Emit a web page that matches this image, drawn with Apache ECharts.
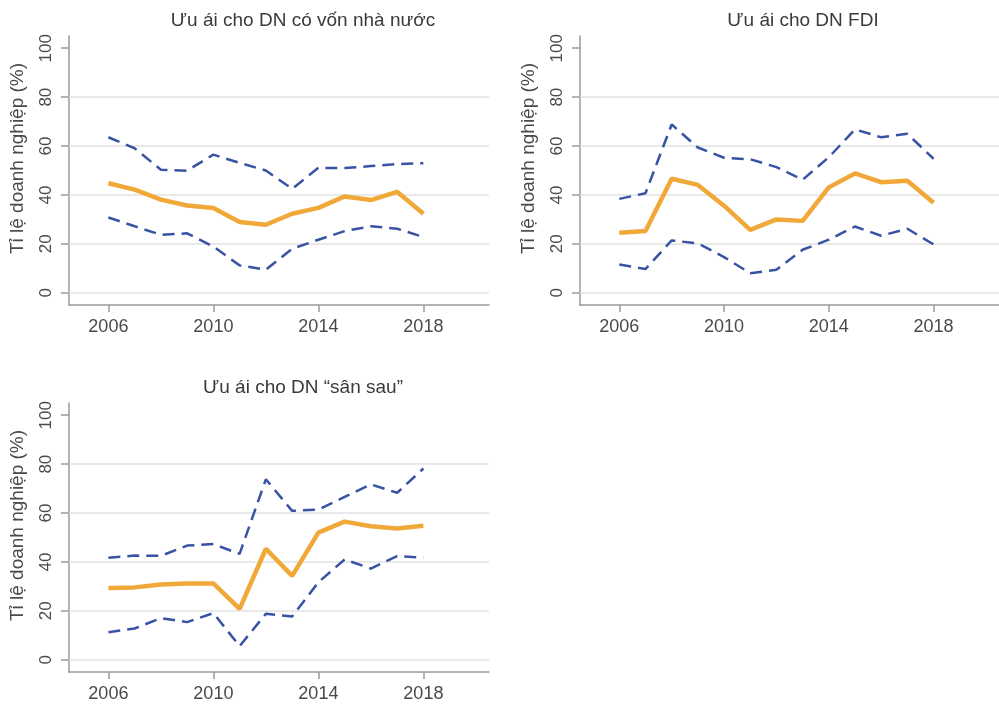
<!DOCTYPE html>
<html>
<head>
<meta charset="utf-8">
<script src="https://cdn.jsdelivr.net/npm/echarts@6/dist/echarts.min.js"></script>
<style>
html, body { margin: 0; padding: 0; background: #fff; }
#main { width: 999px; height: 704px; }
</style>
</head>
<body>
<div id="main"></div>
<script>
var years = [2006, 2007, 2008, 2009, 2010, 2011, 2012, 2013, 2014, 2015, 2016, 2017, 2018];
var xTicks = [2006, 2010, 2014, 2018];
var yTicks = [0, 20, 40, 60, 80, 100];
var gridVals = [0, 20, 40, 60, 80];
var titles = ['Ưu ái cho DN có vốn nhà nước', 'Ưu ái cho DN FDI', 'Ưu ái cho DN “sân sau”'];
var yName = 'Tỉ lệ doanh nghiệp (%)';

// DN có vốn nhà nước
var stateMid = [44.8, 42.2, 38.1, 35.7, 34.7, 28.9, 27.8, 32.3, 34.7, 39.4, 37.9, 41.3, 32.3];
var stateHi = [63.6, 59.1, 50.3, 49.9, 56.5, 53.1, 50.0, 42.5, 51.1, 51.0, 51.8, 52.6, 53.0];
var stateLo = [30.8, 27.2, 23.7, 24.3, 18.9, 11.2, 9.4, 18.0, 21.7, 25.2, 27.2, 26.2, 22.8];

// DN FDI
var fdiMid = [24.5, 25.3, 46.6, 44.1, 35.6, 25.7, 30.0, 29.4, 43.1, 48.8, 45.2, 45.8, 36.8];
var fdiHi = [38.4, 40.7, 68.8, 59.4, 55.2, 54.6, 51.4, 46.2, 55.4, 66.8, 63.6, 65.0, 54.8];
var fdiLo = [11.6, 9.7, 21.4, 20.2, 14.6, 8.0, 9.4, 17.6, 21.7, 27.1, 23.3, 26.2, 19.8];

// DN "sân sau"
var backMid = [29.4, 29.6, 30.8, 31.2, 31.2, 20.8, 45.4, 34.3, 52.0, 56.5, 54.6, 53.7, 54.8];
var backHi = [41.7, 42.6, 42.5, 46.7, 47.3, 43.3, 73.8, 60.9, 61.4, 66.6, 71.7, 68.3, 78.2];
var backLo = [11.3, 12.8, 17.0, 15.4, 19.1, 5.6, 18.8, 17.7, 31.7, 41.0, 37.3, 42.4, 41.7];

var panels = [
    { mid: stateMid, hi: stateHi, lo: stateLo },
    { mid: fdiMid, hi: fdiHi, lo: fdiLo },
    { mid: backMid, hi: backHi, lo: backLo }
];

var FONT = 'Liberation Sans';
var textColor = '#4a4a4a';
var axisColor = '#9a9a9a';
var orange = '#f0a939';
var blue = '#3953a4';

var grids = [
    { left: 69, top: 36, width: 420, height: 269 },
    { left: 580, top: 36, width: 421, height: 269 },
    { left: 69, top: 403, width: 420, height: 269 }
];
var titlePos = [{ x: 303, y: 11 }, { x: 803, y: 11 }, { x: 303, y: 378 }];

function pairs(vals) {
    var out = [];
    for (var i = 0; i < years.length; i++) {
        out.push([years[i], vals[i]]);
    }
    return out;
}

var option = {
    backgroundColor: '#fff',
    animation: false,
    title: [],
    grid: grids,
    xAxis: [],
    yAxis: [],
    series: []
};

for (var p = 0; p < 3; p++) {
    option.title.push({
        text: titles[p],
        left: titlePos[p].x,
        top: titlePos[p].y,
        textAlign: 'center',
        padding: 0,
        textStyle: { fontFamily: FONT, fontSize: 19, fontWeight: 'normal', color: '#3a3a3a' }
    });
    option.xAxis.push({
        type: 'value',
        gridIndex: p,
        min: 2004.5,
        max: 2020.5,
        axisLine: { show: true, onZero: false, lineStyle: { color: axisColor, width: 1.5 } },
        axisTick: { show: true, length: 7, customValues: xTicks, lineStyle: { color: axisColor, width: 1.5 } },
        axisLabel: {
            customValues: xTicks, margin: 13, fontFamily: FONT, fontSize: 18, color: textColor,
            formatter: function (v) { return String(v); }
        },
        splitLine: { show: false }
    });
    option.yAxis.push({
        type: 'value',
        gridIndex: p,
        min: -5,
        max: 105,
        name: yName,
        nameLocation: 'middle',
        nameGap: 42,
        nameTextStyle: { fontFamily: FONT, fontSize: 19, color: textColor, padding: [0, 0, 0, 24] },
        axisLine: { show: true, lineStyle: { color: axisColor, width: 1.5 } },
        axisTick: { show: true, length: 8, customValues: yTicks, lineStyle: { color: axisColor, width: 1.5 } },
        axisLabel: { customValues: yTicks, rotate: 90, margin: 14, fontFamily: FONT, fontSize: 17, color: textColor },
        splitLine: { show: false }
    });
    option.series.push({
        type: 'line',
        xAxisIndex: p,
        yAxisIndex: p,
        data: pairs(panels[p].hi),
        symbol: 'none',
        z: 2,
        lineStyle: { color: blue, width: 2.5, type: [12, 7] },
        markLine: {
            silent: true,
            symbol: 'none',
            label: { show: false },
            lineStyle: { color: '#e2e2e2', width: 1.5, type: 'solid' },
            data: gridVals.map(function (v) { return { yAxis: v }; }),
            z: 1
        }
    });
    option.series.push({
        type: 'line',
        xAxisIndex: p,
        yAxisIndex: p,
        data: pairs(panels[p].lo),
        symbol: 'none',
        z: 2,
        lineStyle: { color: blue, width: 2.5, type: [12, 7] }
    });
    option.series.push({
        type: 'line',
        xAxisIndex: p,
        yAxisIndex: p,
        data: pairs(panels[p].mid),
        symbol: 'none',
        z: 3,
        lineStyle: { color: orange, width: 4.5 }
    });
}

var myChart = echarts.init(document.getElementById('main'), null, { renderer: 'canvas' });
myChart.setOption(option);
window.onresize = myChart.resize;
</script>
</body>
</html>
